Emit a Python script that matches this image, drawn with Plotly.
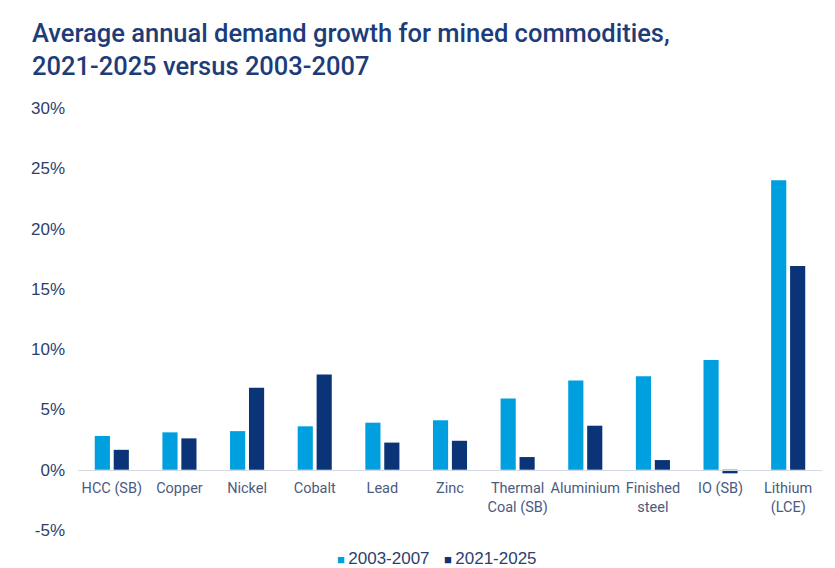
import plotly.graph_objects as go

# Commodity categories (line breaks for the two-line tick labels)
categories = [
    "HCC (SB)", "Copper", "Nickel", "Cobalt", "Lead", "Zinc",
    "Thermal<br>Coal (SB)", "Aluminium", "Finished<br>steel", "IO (SB)",
    "Lithium<br>(LCE)",
]

# Average annual demand growth, % per year
growth_2003_2007 = [2.8, 3.1, 3.2, 3.6, 3.9, 4.1, 5.9, 7.4, 7.75, 9.1, 24.0]
growth_2021_2025 = [1.65, 2.6, 6.8, 7.9, 2.25, 2.4, 1.05, 3.65, 0.8, -0.3, 16.9]

series_names = ["2003-2007", "2021-2025"]

y_ticks = [-5, 0, 5, 10, 15, 20, 25, 30]
y_tick_labels = ["-5%", "0%", "5%", "10%", "15%", "20%", "25%", "30%"]

LIGHT = "#009fe0"
DARK = "#0b3478"
NAVY = "#1d3c78"
TEXT = "#2c3f6e"

fig = go.Figure()
for name, values, color in zip(series_names, [growth_2003_2007, growth_2021_2025], [LIGHT, DARK]):
    fig.add_trace(go.Bar(name=name, x=categories, y=values,
                         marker=dict(color=color, line=dict(width=0))))

# Title, top-left
fig.add_annotation(
    text="Average annual demand growth for mined commodities,<br>2021-2025 versus 2003-2007",
    xref="paper", yref="paper", x=(30 - 78) / 744, y=1 + (108 - 16) / 422,
    xanchor="left", yanchor="top", align="left", showarrow=False,
    font=dict(family="Roboto, sans-serif", size=25.5, color=NAVY, weight=500),
)

# Compact legend below the plot: a small coloured square followed by the series name
legend_x = [335, 442]
for name, color, px in zip(series_names, [LIGHT, DARK], legend_x):
    fig.add_annotation(
        text=f'<span style="color:{color};font-size:13px">■</span>\u2009{name}',
        xref="paper", yref="paper", x=(px - 78) / 744, y=(530 - 558) / 422,
        xanchor="left", yanchor="middle", showarrow=False,
        font=dict(family="Liberation Sans, Arial, sans-serif", size=17, color=TEXT),
    )

fig.update_layout(
    width=835, height=568,
    margin=dict(l=78, r=13, t=108, b=38, autoexpand=False),
    paper_bgcolor="white", plot_bgcolor="white",
    barmode="group", bargap=0.44, bargroupgap=0.2,
    showlegend=False,
    xaxis=dict(
        anchor="free", position=5 / 35,
        showline=True, linecolor="#d3d9e2", linewidth=1,
        ticks="", showgrid=False, ticklabelstandoff=5, tickangle=0,
        tickfont=dict(family="Roboto, sans-serif", size=14.5, color="#4b5b80"),
    ),
    yaxis=dict(
        range=[-5, 30], tickvals=y_ticks, ticktext=y_tick_labels,
        showgrid=False, zeroline=False, showline=False, ticks="",
        ticklabelstandoff=12,
        tickfont=dict(family="Liberation Sans, Arial, sans-serif", size=17, color=TEXT),
    ),
)

fig.write_html("out.html")
